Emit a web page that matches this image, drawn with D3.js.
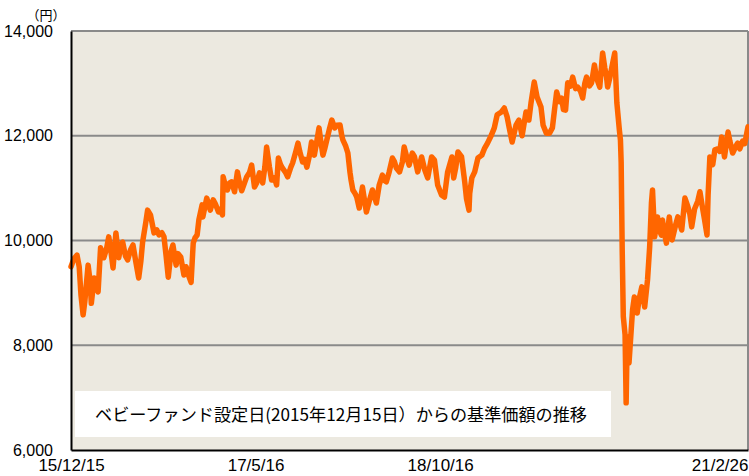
<!DOCTYPE html>
<html>
<head>
<meta charset="utf-8">
<script src="https://cdn.jsdelivr.net/npm/d3@7"></script>
<style>
    body { margin: 0; background: #fff; }
    #chart-container { width: 749px; height: 476px; }
</style>
</head>
<body>
<div id="chart-container"></div>
<script>
// base price (円)
const navDates = [
    "2015-12-15", "2015-12-23",
    "2016-01-01", "2016-01-07", "2016-01-12", "2016-01-18", "2016-01-23", "2016-02-01", "2016-02-07", "2016-02-10",
    "2016-02-18", "2016-02-23", "2016-02-29", "2016-03-07", "2016-03-16", "2016-03-24", "2016-03-30", "2016-04-05",
    "2016-04-11", "2016-04-19", "2016-04-27", "2016-05-03", "2016-05-08", "2016-05-16", "2016-05-22", "2016-05-30",
    "2016-06-06", "2016-06-14", "2016-06-22", "2016-06-28", "2016-07-03", "2016-07-12", "2016-07-17", "2016-07-25",
    "2016-08-04", "2016-08-12", "2016-08-18", "2016-08-26", "2016-09-01", "2016-09-07", "2016-09-13", "2016-09-21",
    "2016-09-26", "2016-10-05", "2016-10-10", "2016-10-18", "2016-10-27", "2016-11-02", "2016-11-08", "2016-11-16",
    "2016-11-22", "2016-11-27", "2016-12-03", "2016-12-08", "2016-12-17", "2016-12-19", "2016-12-25", "2016-12-30",
    "2017-01-09", "2017-01-17", "2017-01-23", "2017-02-01", "2017-02-06", "2017-02-12", "2017-02-14", "2017-02-20",
    "2017-02-26", "2017-03-04", "2017-03-10", "2017-03-18", "2017-03-26", "2017-04-01", "2017-04-07", "2017-04-15",
    "2017-04-21", "2017-04-29", "2017-05-05", "2017-05-13", "2017-05-19", "2017-05-27", "2017-06-05", "2017-06-11",
    "2017-06-16", "2017-06-24", "2017-06-30", "2017-07-08", "2017-07-14", "2017-07-19", "2017-07-25", "2017-07-30",
    "2017-08-08", "2017-08-14", "2017-08-23", "2017-08-28", "2017-09-06", "2017-09-12", "2017-09-17", "2017-09-25",
    "2017-10-01", "2017-10-07", "2017-10-15", "2017-10-20", "2017-10-28", "2017-11-04", "2017-11-10", "2017-11-15",
    "2017-11-21", "2017-11-26", "2017-12-02", "2017-12-10", "2017-12-16", "2017-12-24", "2017-12-30",
    "2018-01-08", "2018-01-13", "2018-01-16", "2018-01-24", "2018-01-30", "2018-02-05", "2018-02-08", "2018-02-13",
    "2018-02-19", "2018-02-24", "2018-03-03", "2018-03-12", "2018-03-17", "2018-03-23", "2018-04-01", "2018-04-09",
    "2018-04-14", "2018-04-20", "2018-04-28", "2018-05-07", "2018-05-12", "2018-05-18", "2018-05-26", "2018-06-04",
    "2018-06-10", "2018-06-15", "2018-06-24", "2018-07-02", "2018-07-07", "2018-07-16", "2018-07-21", "2018-07-30",
    "2018-08-05", "2018-08-14", "2018-08-25", "2018-09-03", "2018-09-11", "2018-09-22", "2018-09-30", "2018-10-09",
    "2018-10-20", "2018-10-28", "2018-11-06", "2018-11-18", "2018-11-23", "2018-11-29", "2018-12-05", "2018-12-15",
    "2018-12-24", "2018-12-29",
    "2019-01-05", "2019-01-07", "2019-01-13", "2019-01-21", "2019-01-30", "2019-02-10", "2019-02-18", "2019-02-26",
    "2019-03-09", "2019-03-17", "2019-03-25", "2019-04-06", "2019-04-14", "2019-04-22", "2019-04-28", "2019-05-06",
    "2019-05-17", "2019-05-25", "2019-06-03", "2019-06-14", "2019-06-22", "2019-06-28", "2019-07-07", "2019-07-15",
    "2019-07-26", "2019-08-01", "2019-08-10", "2019-08-19", "2019-08-27", "2019-09-02", "2019-09-08", "2019-09-16",
    "2019-09-22", "2019-09-27", "2019-10-03", "2019-10-09", "2019-10-17", "2019-10-23", "2019-10-31", "2019-11-06",
    "2019-11-14", "2019-11-20", "2019-11-26", "2019-12-01", "2019-12-09", "2019-12-15", "2019-12-23", "2019-12-29",
    "2020-01-07", "2020-01-15", "2020-01-21", "2020-01-26", "2020-01-29", "2020-02-04", "2020-02-10", "2020-02-18",
    "2020-02-24", "2020-03-02", "2020-03-05", "2020-03-07", "2020-03-10", "2020-03-13", "2020-03-18", "2020-03-21",
    "2020-03-24", "2020-03-29", "2020-04-08", "2020-04-13", "2020-04-21", "2020-04-27", "2020-05-04", "2020-05-12",
    "2020-05-20", "2020-05-26", "2020-05-31", "2020-06-03", "2020-06-09", "2020-06-17", "2020-06-22", "2020-06-28",
    "2020-07-01", "2020-07-06", "2020-07-12", "2020-07-20", "2020-07-28", "2020-08-07", "2020-08-13", "2020-08-24",
    "2020-09-02", "2020-09-10", "2020-09-16", "2020-09-21", "2020-09-29", "2020-10-08", "2020-10-14", "2020-10-22",
    "2020-10-27", "2020-11-03", "2020-11-06", "2020-11-11", "2020-11-19", "2020-11-25", "2020-12-03", "2020-12-09",
    "2020-12-14", "2020-12-22",
    "2021-01-01", "2021-01-06", "2021-01-14", "2021-01-23", "2021-01-28", "2021-02-03", "2021-02-11", "2021-02-17",
    "2021-02-26"
];

const navValues = [
    9500, 9650,
    9720, 9500, 8960, 8580, 8850, 9530, 9200, 8800,
    9285, 9150, 9020, 9860, 9670, 9850, 10070, 9800,
    9475, 10145, 9670, 9900, 9970, 9700, 9630, 9820,
    9915, 9590, 9285, 9600, 9970, 10350, 10580, 10490,
    10145, 10200, 10105, 10150, 10070, 9700, 9300, 9800,
    9915, 9530, 9750, 9685, 9340, 9500, 9350, 9200,
    9950, 10050, 10105, 10400, 10680, 10450, 10650, 10810,
    10580, 10775, 10700, 10545, 10600, 10490, 11215, 11050,
    10965, 11100, 11120, 10930, 11310, 11100, 10950, 11100,
    11215, 11300, 11440, 11020, 11100, 11290, 11100, 11400,
    11785, 11400, 11155, 11200, 11060, 11575, 11450, 11385,
    11300, 11215, 11400, 11480, 11700, 11860, 11700, 11500,
    11550, 11400, 11650, 11880, 11630, 11900, 12150, 11900,
    11630, 11750, 11920, 12150, 12300, 12150, 12200,
    12205, 12000, 11920, 11800, 11670, 11300, 11155, 10965,
    10900, 10830, 10620, 11020, 10800, 10545, 10775, 10965,
    10850, 10715, 11060, 11250, 11150, 11120, 11310, 11575,
    11500, 11385, 11310, 11500, 11785, 11550, 11440, 11670,
    11600, 11310, 11595, 11345, 11195, 11595, 11535, 11060,
    10870, 10830, 11310, 11595, 11195, 11400, 11690, 11600,
    11120, 10800,
    10580, 10900, 11195, 11310, 11575, 11630, 11765, 11860,
    12015, 12150, 12400, 12455, 12530, 12360, 12150, 11880,
    12205, 12300, 12000, 12455, 12300, 12625, 13025, 12740,
    12550, 12200, 12050, 12050, 12150, 12500, 12835, 12650,
    12720, 12500, 12490, 13010, 12950, 13120, 12900, 12930,
    12850, 12720, 13000, 13120, 12950, 13010, 13350, 13100,
    12930, 13580, 13300, 13120, 12930, 13100, 13310, 13580,
    12625, 12110, 11920, 11500, 9800, 8550, 8200, 6900,
    8160, 7660, 8675, 8920, 8615, 8900, 9115, 8730,
    9245, 9875, 10715, 10965, 10070, 10450, 10200, 10100,
    10390, 10150, 9950, 10450, 10010, 10300, 10450, 10200,
    10810, 10650, 10500, 10260, 10600, 10750, 10930, 10600,
    10400, 10105, 10870, 11595, 11450, 11730, 11750, 11700,
    11975, 11595,
    12070, 11900, 11670, 11800, 11860, 11750, 11900, 11850,
    12170
];

const yTicks = [6000, 8000, 10000, 12000, 14000];
const xTickDates = ["2015-12-15", "2017-05-16", "2018-10-16", "2021-02-26"];
const xTickLabels = ["15/12/15", "17/5/16", "18/10/16", "21/2/26"];
const unitLabel = "（円）";
const noteText = "ベビーファンド設定日(2015年12月15日）からの基準価額の推移";

const width = 749;
const height = 476;
const margin = {top: 31, right: 1, bottom: 26, left: 71};

const parseDate = d3.timeParse("%Y-%m-%d");
const series = navDates.map((d, i) => ({date: parseDate(d), value: navValues[i]}));

const x = d3.scaleTime()
    .domain([parseDate(navDates[0]), parseDate(navDates[navDates.length - 1])])
    .range([margin.left, width - margin.right]);

const y = d3.scaleLinear()
    .domain([6000, 14000])
    .range([height - margin.bottom, margin.top]);

const svg = d3.select("#chart-container")
    .append("svg")
    .attr("width", width)
    .attr("height", height);

// plot background
svg.append("rect")
    .attr("x", margin.left)
    .attr("y", margin.top)
    .attr("width", width - margin.left - margin.right)
    .attr("height", height - margin.top - margin.bottom)
    .attr("fill", "#ECE9E0");

// gridlines (top one doubles as the frame)
svg.append("g")
    .selectAll("line")
    .data(yTicks.slice(1))
    .join("line")
    .attr("x1", margin.left)
    .attr("x2", width - margin.right)
    .attr("y1", d => y(d))
    .attr("y2", d => y(d))
    .attr("stroke", "#8a8a8a")
    .attr("stroke-width", 2);

// right frame
svg.append("line")
    .attr("x1", width - margin.right)
    .attr("x2", width - margin.right)
    .attr("y1", margin.top)
    .attr("y2", height - margin.bottom)
    .attr("stroke", "#8a8a8a")
    .attr("stroke-width", 2);

// the price line
const line = d3.line()
    .x(d => x(d.date))
    .y(d => y(d.value));

svg.append("path")
    .datum(series)
    .attr("fill", "none")
    .attr("stroke", "#FF6600")
    .attr("stroke-width", 5.5)
    .attr("stroke-linejoin", "round")
    .attr("stroke-linecap", "round")
    .attr("d", line);

// note box
const note = svg.append("g");
note.append("rect")
    .attr("x", 75)
    .attr("y", 391)
    .attr("width", 536)
    .attr("height", 46)
    .attr("fill", "#fff");
note.append("text")
    .attr("x", 95)
    .attr("y", 421)
    .attr("textLength", 492)
    .attr("lengthAdjust", "spacingAndGlyphs")
    .style("font-family", "'Noto Sans CJK JP', sans-serif")
    .style("font-size", "17px")
    .attr("fill", "#000")
    .text(noteText);

// y axis
const yAxis = svg.append("g")
    .attr("transform", `translate(${margin.left},0)`)
    .call(d3.axisLeft(y).tickValues(yTicks).tickFormat(d3.format(",")).tickSize(0).tickPadding(18));
yAxis.select(".domain").attr("stroke", "#000").attr("stroke-width", 2);
yAxis.selectAll("text")
    .style("font-family", "'Liberation Sans', Arial, sans-serif")
    .style("font-size", "16px")
    .attr("fill", "#000");

// x axis
const xAxis = svg.append("g")
    .attr("transform", `translate(0,${height - margin.bottom})`)
    .call(d3.axisBottom(x)
        .tickValues(xTickDates.map(parseDate))
        .tickFormat((d, i) => xTickLabels[i])
        .tickSize(0)
        .tickPadding(9));
xAxis.select(".domain").attr("stroke", "#000").attr("stroke-width", 2);
xAxis.selectAll("text")
    .style("font-family", "'Liberation Sans', Arial, sans-serif")
    .style("font-size", "17px")
    .attr("fill", "#000")
    .attr("text-anchor", (d, i) => i === xTickLabels.length - 1 ? "end" : "middle");

// unit label
svg.append("text")
    .attr("x", 46)
    .attr("y", 20)
    .attr("text-anchor", "middle")
    .style("font-family", "'Noto Sans CJK JP', sans-serif")
    .style("font-size", "13px")
    .text(unitLabel);
</script>
</body>
</html>
